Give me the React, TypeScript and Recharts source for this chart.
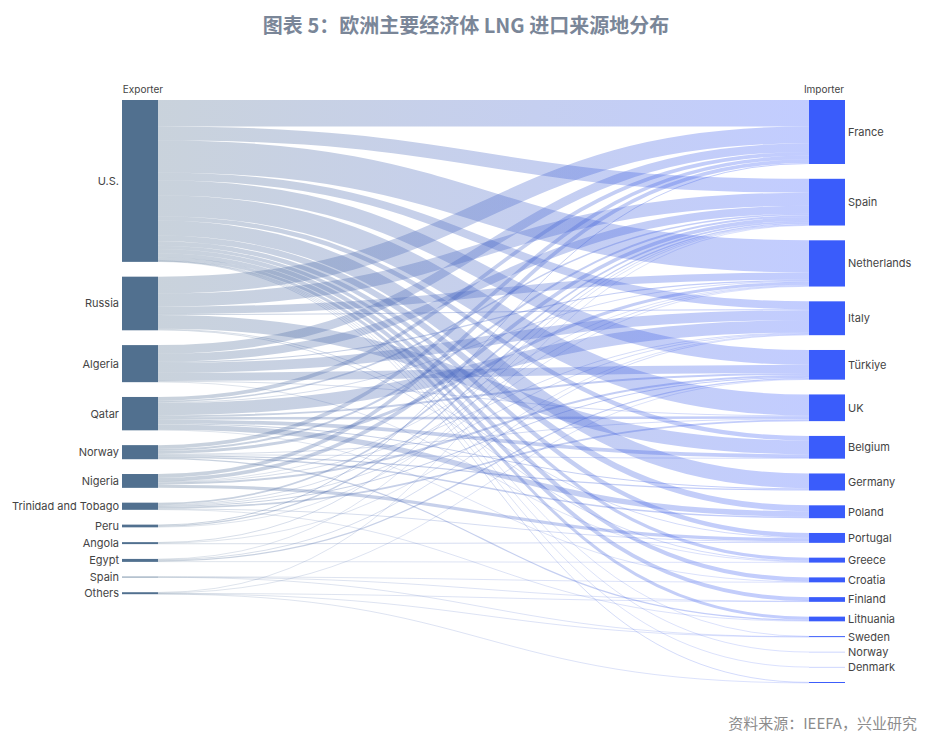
import { Sankey } from 'recharts';

// exporters (left column), top to bottom
const exporters = ['U.S.', 'Russia', 'Algeria', 'Qatar', 'Norway', 'Nigeria', 'Trinidad and Tobago', 'Peru', 'Angola', 'Egypt', 'Spain', 'Others'];

// importers (right column), top to bottom; last node carries no label in the source
const importers = ['France', 'Spain', 'Netherlands', 'Italy', 'Türkiye', 'UK', 'Belgium', 'Germany', 'Poland', 'Portugal', 'Greece', 'Croatia', 'Finland', 'Lithuania', 'Sweden', 'Norway', 'Denmark', ''];

// flows per exporter, same order as importers
const usFlows = [10.7, 5.6, 13, 3.2, 6.0, 8.5, 1.8, 6.0, 2.4, 1.8, 1.3, 1.7, 1.6, 1.2, 0.2, 0.1, 0.1, 0.3];
const russiaFlows = [6.8, 5.3, 3.0, 0.4, 0, 0, 5.6, 0, 0, 0.3, 0.3, 0, 0, 0, 0, 0, 0, 0];
const algeriaFlows = [3.5, 3.2, 0.5, 4.0, 3.3, 0.3, 0, 0, 0, 0, 0.2, 0, 0, 0, 0, 0, 0, 0];
const qatarFlows = [1.5, 0.6, 0.3, 5.0, 0.8, 1.0, 1.5, 0.4, 2.2, 0, 0, 0.2, 0, 0, 0, 0, 0, 0];
const norwayFlows = [1.5, 0.8, 1.2, 0, 0, 0.3, 0.3, 0.5, 0.6, 0, 0, 0, 0, 0.5, 0, 0, 0, 0];
const nigeriaFlows = [1.5, 1.5, 0.2, 0.3, 0.8, 0, 0, 0, 0, 1.3, 0, 0, 0, 0, 0, 0, 0, 0];
const trinidadFlows = [0, 0.7, 0.3, 0.3, 0.4, 0.7, 0, 0, 0, 0.3, 0, 0, 0, 0.2, 0, 0, 0, 0];
const peruFlows = [0.4, 0.5, 0.2, 0, 0, 0, 0, 0, 0, 0, 0, 0, 0, 0, 0, 0, 0, 0];
const angolaFlows = [0, 0.3, 0, 0.2, 0, 0, 0, 0, 0, 0.3, 0, 0, 0, 0, 0, 0, 0, 0];
const egyptFlows = [0, 0.2, 0, 0.3, 0.5, 0, 0, 0, 0, 0, 0.2, 0, 0, 0, 0, 0, 0, 0];
const spainFlows = [0, 0, 0, 0, 0, 0, 0, 0, 0, 0, 0, 0.1, 0.1, 0, 0.1, 0, 0, 0];
const othersFlows = [0, 0.2, 0, 0, 0.2, 0, 0, 0, 0, 0, 0, 0, 0.2, 0, 0.1, 0, 0, 0.1];

const flowRows = [usFlows, russiaFlows, algeriaFlows, qatarFlows, norwayFlows, nigeriaFlows, trinidadFlows, peruFlows, angolaFlows, egyptFlows, spainFlows, othersFlows];

const nodes = [...exporters, ...importers].map(name => ({ name }));
const links: { source: number; target: number; value: number }[] = [];
flowRows.forEach((row, s) => {
  row.forEach((v, t) => {
    if (v > 0) links.push({ source: s, target: exporters.length + t, value: v });
  });
});

const FONT = 'Inter, "Noto Sans", sans-serif';
const CJK = '"Noto Sans CJK SC", "Noto Sans", sans-serif';

function NodeShape(props: any) {
  const { x, y, width, height, payload } = props;
  const isSource = payload.depth === 0;
  return (
    <g>
      <rect x={x} y={y} width={width} height={height} fill={isSource ? '#51708f' : '#3a5cfb'} />
      {payload.name ? (
        <text
          x={isSource ? x - 3 : x + width + 3}
          y={y + height / 2}
          textAnchor={isSource ? 'end' : 'start'}
          dominantBaseline="central"
          fontSize={11}
          fontFamily={FONT}
          fill="#444"
        >
          {payload.name}
        </text>
      ) : null}
    </g>
  );
}

function LinkShape(props: any) {
  const { sourceX, targetX, sourceY, targetY, sourceControlX, targetControlX, linkWidth } = props;
  return (
    <path
      d={`M${sourceX},${sourceY} C${sourceControlX},${sourceY} ${targetControlX},${targetY} ${targetX},${targetY}`}
      fill="none"
      stroke="url(#lngLinkGrad)"
      strokeWidth={Math.max(linkWidth, 0.6)}
      strokeOpacity={0.3}
    />
  );
}

export default function App() {
  return (
    <div style={{ position: 'absolute', left: 0, top: 0, width: 932, height: 744, background: '#fff', fontFamily: FONT }}>
      <svg width={0} height={0} style={{ position: 'absolute' }}>
        <defs>
          <linearGradient id="lngLinkGrad" gradientUnits="userSpaceOnUse" x1={159} y1={0} x2={809} y2={0}>
            <stop offset="0%" stopColor="#4d6b8a" />
            <stop offset="100%" stopColor="#3558ff" />
          </linearGradient>
        </defs>
      </svg>
      <div
        style={{
          position: 'absolute', top: 10, left: 0, width: 932, textAlign: 'center',
          fontFamily: CJK, fontWeight: 700, fontSize: 20, color: '#7a8698',
        }}
      >
        图表 5：欧洲主要经济体 LNG 进口来源地分布
      </div>
      <div style={{ position: 'absolute', top: 83, left: 122, width: 42, fontSize: 10, color: '#444', whiteSpace: 'nowrap', display: 'flex', justifyContent: 'center' }}>
        Exporter
      </div>
      <div style={{ position: 'absolute', top: 83, left: 804, width: 40, fontSize: 10, color: '#444', whiteSpace: 'nowrap', display: 'flex', justifyContent: 'center' }}>
        Importer
      </div>
      <div style={{ position: 'absolute', left: 0, top: 0 }}>
        <Sankey
          width={932}
          height={744}
          data={{ nodes, links }}
          nodeWidth={36}
          nodePadding={14.8}
          iterations={0}
          sort={false}
          linkCurvature={0.5}
          margin={{ top: 100, left: 122, right: 87, bottom: 61 }}
          node={<NodeShape />}
          link={<LinkShape />}
        />
      </div>
      <div
        style={{
          position: 'absolute', top: 712, right: 15, fontSize: 15, color: '#8c8c8c',
          fontFamily: CJK,
        }}
      >
        资料来源：IEEFA，兴业研究
      </div>
    </div>
  );
}
